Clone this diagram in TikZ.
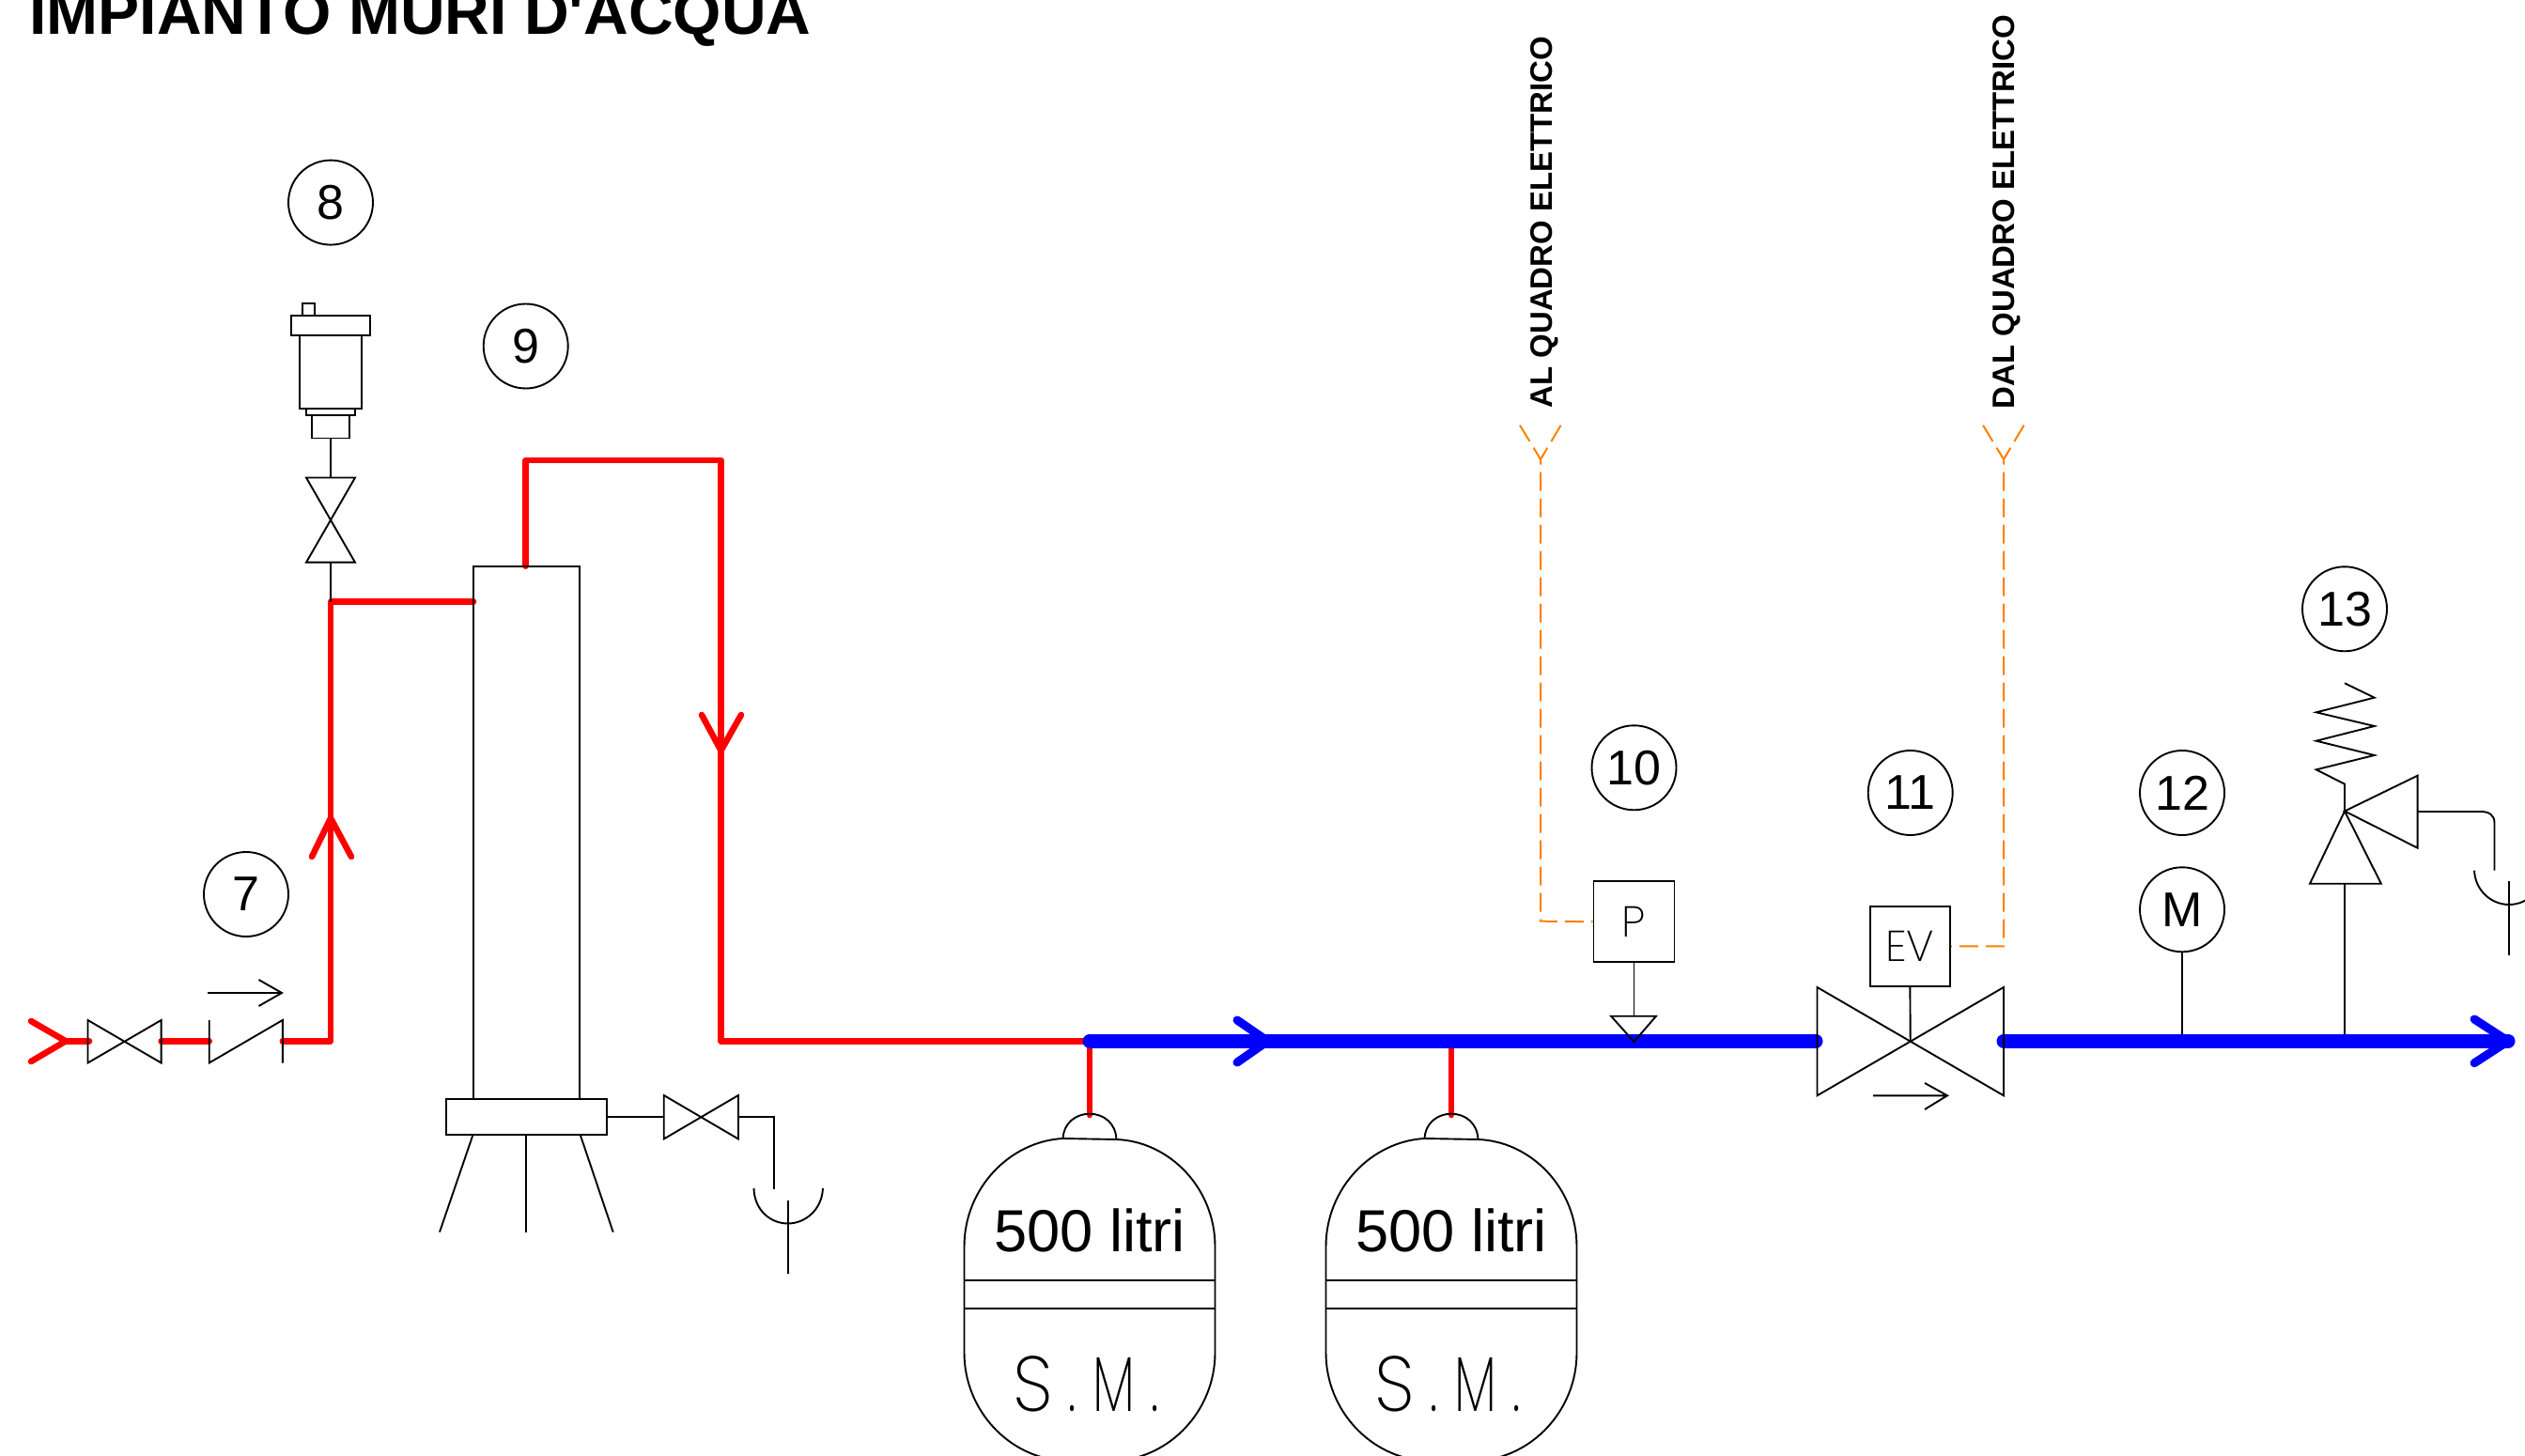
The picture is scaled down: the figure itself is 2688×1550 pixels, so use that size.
\documentclass[tikz,border=0pt]{standalone}
\usepackage{fontspec}
\setmainfont{Liberation Sans}
\newfontfamily\titlefont{Liberation Sans}
\newfontfamily\thinfont{Poppins ExtraLight}
\definecolor{pipered}{RGB}{255,0,0}
\definecolor{pipeblue}{RGB}{0,0,255}
\definecolor{wireorange}{RGB}{255,127,0}
\tikzset{
  inst/.style={draw=black,line width=0.95pt},
  tag/.style={circle,draw=black,line width=0.95pt,minimum size=45pt,inner sep=0pt,font=\fontsize{26}{26}\selectfont},
  redpipe/.style={draw=pipered,line width=3.3pt,line cap=round,line join=round},
  bluepipe/.style={draw=pipeblue,line width=7.5pt,line cap=round,line join=round},
  bluetip/.style={draw=pipeblue,line width=4.5pt,line cap=round,line join=round},
  wire/.style={draw=wireorange,line width=1pt,dash pattern=on 10pt off 4pt},
  boxed/.style={rectangle,draw=black,line width=0.95pt,inner sep=0pt,fill=white},
  thintext/.style={font=\thinfont\fontsize{41.5}{41.5}\selectfont,inner sep=0pt},
  boxtext/.style={font=\thinfont\fontsize{23}{23}\selectfont},
  vtext/.style={font=\bfseries\fontsize{16.5}{16.5}\selectfont,rotate=90,anchor=base west,inner sep=0pt},
}
\newcommand{\butterfly}[4]{%
  \draw[inst] (#1,#3)--(#2,#4)--(#2,#3)--(#1,#4)--cycle;}
\begin{document}
\begin{tikzpicture}[x=0.5pt,y=-0.5pt]
\useasboundingbox (0,0) rectangle (2688,1550);
\clip (0,0) rectangle (2688,1550);
% title
\node[anchor=base west,inner sep=0pt,font=\titlefont\bfseries\fontsize{33}{33}\selectfont] (title) at (31,37) {IMPIANTO MURI D'ACQUA};
% tags
\node[tag] (t7) at (262,952) {7};
\node[tag] (t8) at (352,215.6) {8};
\node[tag] (t9) at (559.7,368.5) {9};
\node[tag] (t10) at (1739.5,817.3) {10};
\node[tag] (t11) at (2033.7,844) {11};
\node[tag] (t12) at (2323,844) {12};
\node[tag] (t13) at (2496,648.3) {13};
\node[tag] (gauge) at (2323,968.3) {M};
% vertical labels
\node[vtext] (al) at (1652,435) {AL QUADRO ELETTRICO};
\node[vtext] (dal) at (2144.6,435.7) {DAL QUADRO ELETTRICO};
% coordinates
\coordinate (in) at (70,1108.3);
\coordinate (v1l) at (95,1108.3);
\coordinate (v1r) at (171.6,1108.3);
\coordinate (ckl) at (222.7,1108.3);
\coordinate (ckr) at (300.8,1108.3);
\coordinate (rise) at (352,1108.3);
\coordinate (tee) at (352,640.6);
\coordinate (colin) at (504,640.6);
\coordinate (coltop) at (559.7,602.7);
\coordinate (over1) at (559.7,490);
\coordinate (over2) at (767.5,490);
\coordinate (down) at (767.5,1108.3);
\coordinate (j1) at (1160,1108.3);
\coordinate (j2) at (1545,1108.3);
\coordinate (bl) at (1933,1108.3);
\coordinate (bc) at (2033.7,1108.3);
\coordinate (br) at (2133,1108.3);
\coordinate (bend) at (2670,1108.3);
% red pipes
\draw[redpipe] (33,1087)--(in)--(33,1130);
\draw[redpipe] (in)--(v1l);
\draw[redpipe] (v1r)--(ckl);
\draw[redpipe] (ckr)--(rise)--(tee)--(colin);
\draw[redpipe] (coltop)--(over1)--(over2)--(down)--(j1);
\draw[redpipe] (332,912)--(352,871)--(374,912);
\draw[redpipe] (747,761)--(767.5,799)--(789,761);
\draw[redpipe] (j1)--(1160,1187);
\draw[redpipe] (j2)--(1545,1187);
% blue pipes
\draw[bluepipe] (j1)--(bl);
\draw[bluepipe] (br)--(bend);
\draw[bluetip] (1317,1086)--(1349.5,1108.3)--(1317,1131);
\draw[bluetip] (2634,1085)--(2670,1108.3)--(2634,1131.7);
% inlet valve and check valve
\butterfly{93.5}{171.6}{1086}{1131.5}
\draw[inst] (222.7,1086)--(222.7,1131.5)--(300.8,1086)--(300.8,1131.5);
\draw[inst] (221,1057)--(300,1057) (275.5,1043)--(300,1057)--(275.5,1071);
% air vent
\node[boxed,minimum width=6.75pt,minimum height=6.5pt] (tab) at (328.3,329.5) {};
\node[boxed,minimum width=42pt,minimum height=10.5pt] (cap) at (352,346.5) {};
\node[boxed,minimum width=33pt,minimum height=39pt] (body) at (352,396) {};
\node[boxed,minimum width=26.25pt,minimum height=3.5pt] (neck) at (352,438.5) {};
\node[boxed,minimum width=20pt,minimum height=12.25pt] (nipple) at (352,454.25) {};
\coordinate (vtop) at (352,508.5);
\coordinate (vbot) at (352,598.7);
\draw[inst] (nipple.south)--(vtop);
\draw[inst] (326,508.5)--(378,508.5)--(326,598.7)--(378,598.7)--cycle;
\draw[inst] (vbot)--(tee);
% column
\node[boxed,fill=none,minimum width=56.5pt,minimum height=283.65pt] (col) at (560.5,886.35) {};
\node[boxed,minimum width=85.5pt,minimum height=19pt] (base) at (560.5,1189) {};
\draw[inst] (503.5,1208)--(468,1311.6);
\draw[inst] (560.3,1208)--(560.3,1311.6);
\draw[inst] (617.7,1208)--(652.7,1311.6);
% drain
\coordinate (dv1) at (706.7,1189);
\coordinate (dv2) at (786,1189);
\coordinate (dbend) at (823.8,1189);
\coordinate (dend) at (823.8,1265.6);
\draw[inst] (base.east)--(dv1);
\butterfly{706.7}{786}{1166}{1212.5}
\draw[inst] (dv2)--(dbend)--(dend);
\draw[inst] (802.5,1265) .. controls (803,1288) and (820,1302.5) .. (838.7,1302.5) .. controls (857,1302.5) and (875,1288) .. (876,1265);
\draw[inst] (838.7,1277.6)--(838.7,1355.6);
% tanks
\foreach \c/\n in {1160/a,1545/b}{
  \begin{scope}[shift={(\c,0)}]
  \draw[inst] (-133.5,1327)
    .. controls (-133.5,1265) and (-85,1215) .. (-28.4,1212)
    -- (28.4,1213)
    .. controls (85,1215) and (133.5,1265) .. (133.5,1327)
    -- (133.5,1440)
    .. controls (133.5,1502) and (85,1552) .. (28.4,1555)
    -- (-28.4,1555)
    .. controls (-85,1552) and (-133.5,1502) .. (-133.5,1440) -- cycle;
  \draw[inst] (-28.4,1212) .. controls (-28,1196) and (-15,1185.7) .. (0,1185.7) .. controls (15,1185.7) and (28,1196) .. (28.4,1213);
  \draw[inst] (-133.5,1363.3)--(133.5,1363.3);
  \draw[inst] (-133.5,1393)--(133.5,1393);
  \node[anchor=base,inner sep=0pt,font=\fontsize{31.6}{32}\selectfont] (lit\n) at (0,1332.7) {500 litri};
  \node[thintext,anchor=base,xscale=0.66] (sm\n) at (-3.5,1502) {\scalebox{1.4}[1]{S}\kern 12pt.\kern 13.5pt M\kern 13.5pt.};
  \end{scope}
}
% pressure switch
\node[boxed,boxtext,minimum width=43pt,minimum height=42.85pt] (pbox) at (1739.5,981.15) {P};
\draw[inst] (pbox.south)--(1739.5,1081.7);
\draw[inst] (1715,1081.7)--(1763,1081.7)--(1739.5,1109)--cycle;
% solenoid valve
\node[boxed,boxtext,minimum width=42.65pt,minimum height=42.65pt] (ev) at (2033.35,1007.35) {EV};
\draw[inst] (1934.5,1051)--(2133,1166.3)--(2133,1051)--(1934.5,1166.3)--cycle;
\draw[inst] (ev.south)--(bc);
\draw[inst] (1994,1166.3)--(2073,1166.3) (2049,1153)--(2073,1166.3)--(2049,1181);
% gauge stem
\draw[inst] (gauge.south)--(2323,1101);
% relief valve
\coordinate (rv) at (2496,863.5);
\draw[inst] (2496,1101)--(2496,940.7);
\draw[inst] (2459,940.7)--(2534.8,940.7)--(rv)--cycle;
\draw[inst] (rv)--(2573.6,825.7)--(2573.6,902.7)--cycle;
\draw[inst] (rv)--(2496,834.7)--(2465.7,819.3)--(2527.7,804)--(2465.7,788.7)--(2527.7,773)--(2465.7,758.3)--(2527.7,742.7)--(2496,727.3);
\draw[inst] (2573.6,864)--(2641,864) .. controls (2650,864) and (2655.5,868) .. (2655.5,876)--(2655.5,926.7);
\draw[inst] (2634,926.7) .. controls (2635,948) and (2652,963) .. (2671,963) .. controls (2690,963) and (2707,948) .. (2708,926.7);
\draw[inst] (2671,938)--(2671,1016.7);
% wires
\coordinate (y1) at (1640,489);
\coordinate (y2) at (2133,489);
\draw[wire] (1618,452.7)--(y1)--(1640,980.7)--(pbox.west);
\draw[wire] (1661.6,452.7)--(y1);
\draw[wire] (2111,452.7)--(y2)--(2133,1007.35)--(ev.east);
\draw[wire] (2154.6,452.7)--(y2);
\end{tikzpicture}
\end{document}
